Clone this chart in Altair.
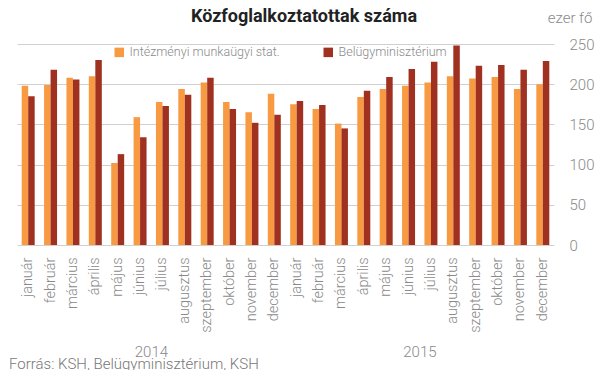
import altair as alt
import pandas as pd

months = ["január", "február", "március", "április", "május", "június",
          "július", "augusztus", "szeptember", "október", "november", "december"]
years = ["2014", "2015"]
intezmenyi = [198, 199, 208, 210, 102, 159, 178, 194, 202, 178, 165, 188,
              175, 169, 151, 184, 194, 198, 202, 210, 207, 209, 194, 200]
belugy = [185, 218, 206, 230, 113, 134, 173, 187, 208, 169, 152, 162,
          179, 174, 145, 192, 209, 219, 228, 248, 223, 224, 218, 229]
series = ["Intézményi munkaügyi stat.", "Belügyminisztérium"]
colors = ["#F79A42", "#A03020"]
title_text = "Közfoglalkoztatottak száma"
footer_text = "Forrás: KSH, Belügyminisztérium, KSH"

cats = [f"{m} {y}" for y in years for m in months]
rows = []
for i, c in enumerate(cats):
    rows.append({"cat": c, "series": series[0], "value": intezmenyi[i]})
    rows.append({"cat": c, "series": series[1], "value": belugy[i]})
df = pd.DataFrame(rows)

W, H = 537, 201
FONT = "Roboto"
GRAY = "#8a8a8a"

xscale = alt.Scale(domain=cats, paddingInner=0.42, paddingOuter=0.21)

bars = alt.Chart(df).mark_bar().encode(
    x=alt.X("cat:N", scale=xscale, sort=cats,
            axis=alt.Axis(title=None, labelAngle=-90, labelAlign="right",
                          labelBaseline="middle",
                          labelExpr="split(datum.label, ' ')[0]",
                          labelColor=GRAY, labelFontSize=14.5, labelFont=FONT,
                          labelFontWeight=300, labelPadding=12,
                          ticks=False, domain=False)),
    xOffset=alt.XOffset("series:N", sort=series, scale=alt.Scale(paddingInner=0, paddingOuter=0)),
    y=alt.Y("value:Q", scale=alt.Scale(domain=[0, 250], nice=False),
            axis=alt.Axis(orient="right", values=[0, 50, 100, 150, 200, 250],
                          title="ezer fő", titleAngle=0, titleAlign="right",
                          titleBaseline="middle",
                          titleX=38, titleY=-27, titleColor=GRAY,
                          titleFontSize=15, titleFont=FONT, titleFontWeight=300,
                          labelColor=GRAY, labelFontSize=15, labelFont=FONT,
                          labelFontWeight=300, labelPadding=15,
                          ticks=False, domain=False, grid=True,
                          gridColor="#d0d0d0", gridWidth=1)),
    color=alt.Color("series:N", sort=series,
                    scale=alt.Scale(domain=series, range=colors),
                    legend=alt.Legend(title=None, orient="none", direction="horizontal",
                                      legendX=96, legendY=2, symbolType="square",
                                      symbolSize=90, symbolStrokeWidth=0,
                                      labelColor=GRAY, labelFontSize=12.5,
                                      labelFont=FONT, labelFontWeight=300,
                                      columnPadding=42, symbolOpacity=1,
                                      labelLimit=300)),
)

year_df = pd.DataFrame({"cat": ["július 2014", "július 2015"], "year": years})
year_text = alt.Chart(year_df).mark_text(
    dx=-11, fontSize=15, font=FONT, fontWeight=300, color=GRAY, baseline="middle"
).encode(
    x=alt.X("cat:N", scale=xscale, sort=cats),
    y=alt.value(308),
    text="year:N",
)

footer_df = pd.DataFrame({"t": [footer_text]})
footer = alt.Chart(footer_df).mark_text(
    align="left", baseline="middle", fontSize=15, font=FONT, fontWeight=300, color="#777777"
).encode(x=alt.value(-8), y=alt.value(320), text="t:N")

title_df = pd.DataFrame({"t": [title_text]})
title = alt.Chart(title_df).mark_text(
    align="center", baseline="middle", fontSize=18, font=FONT, fontWeight="bold", color="#222222"
).encode(x=alt.value(287), y=alt.value(-27), text="t:N")

chart = alt.layer(bars, year_text, footer, title).properties(
    width=W, height=H,
    autosize=alt.AutoSizeParams(type="none"),
    padding={"left": 9, "top": 36, "right": 43, "bottom": 125},
).configure_view(stroke=None)

chart.save("out.html", embed_options={"renderer": "svg", "actions": False})
